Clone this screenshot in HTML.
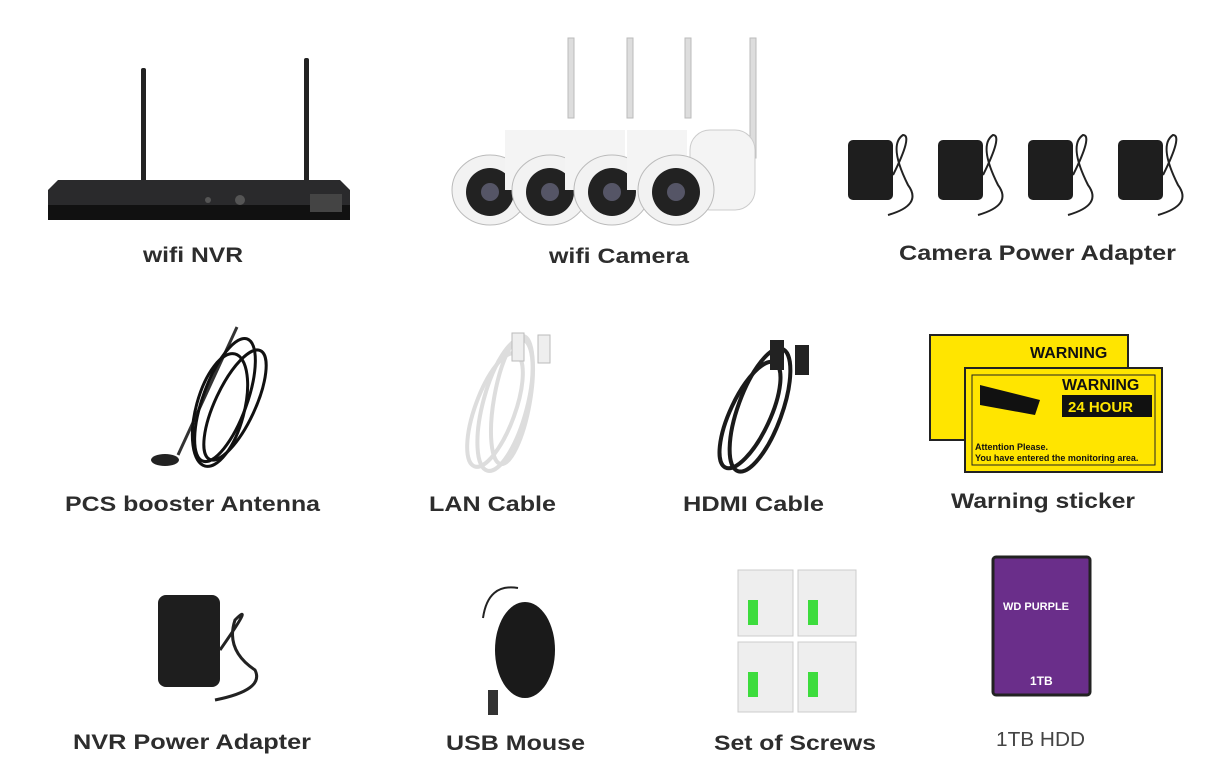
<!DOCTYPE html>
<html><head><meta charset="utf-8"><style>
html,body{margin:0;padding:0;background:#fff;width:1232px;height:772px;overflow:hidden}
svg{display:block}
text{font-family:"Liberation Sans",Arial,sans-serif;fill:#2d2d2d;font-size:21px;font-weight:bold}
.l{font-weight:normal;fill:#444;font-size:20px}
</style></head><body>
<svg width="1232" height="772" viewBox="0 0 1232 772" xmlns="http://www.w3.org/2000/svg">
<rect width="1232" height="772" fill="#fff"/>
<!-- NVR -->
<rect x="141" y="68" width="5" height="114" rx="2" fill="#222"/>
<rect x="304" y="58" width="5" height="124" rx="2" fill="#222"/>
<polygon points="58,180 340,180 350,190 350,220 48,220 48,190" fill="#2a2a2c"/>
<rect x="48" y="205" width="302" height="15" fill="#111"/>
<circle cx="208" cy="200" r="3" fill="#555"/><circle cx="240" cy="200" r="5" fill="#555"/>
<rect x="310" y="194" width="32" height="18" fill="#444"/>
<!-- cameras -->
<g fill="#e9e9e9" stroke="#bbb">
<rect x="568" y="38" width="6" height="80" fill="#ddd"/>
<rect x="627" y="38" width="6" height="80" fill="#ddd"/>
<rect x="685" y="38" width="6" height="80" fill="#ddd"/>
<rect x="750" y="38" width="6" height="120" fill="#ddd"/>
</g>
<g>
<g transform="translate(0,0)"><ellipse cx="490" cy="190" rx="38" ry="35" fill="#f2f2f2" stroke="#bbb"/><circle cx="490" cy="192" r="24" fill="#222"/><circle cx="490" cy="192" r="9" fill="#556"/><rect x="505" y="130" width="70" height="60" fill="#f4f4f4"/></g>
<g><ellipse cx="550" cy="190" rx="38" ry="35" fill="#f2f2f2" stroke="#bbb"/><circle cx="550" cy="192" r="24" fill="#222"/><circle cx="550" cy="192" r="9" fill="#556"/><rect x="565" y="130" width="60" height="60" fill="#f4f4f4"/></g>
<g><ellipse cx="612" cy="190" rx="38" ry="35" fill="#f2f2f2" stroke="#bbb"/><circle cx="612" cy="192" r="24" fill="#222"/><circle cx="612" cy="192" r="9" fill="#556"/><rect x="627" y="130" width="60" height="60" fill="#f4f4f4"/></g>
<g><rect x="690" y="130" width="65" height="80" rx="20" fill="#f4f4f4" stroke="#ccc"/><ellipse cx="676" cy="190" rx="38" ry="35" fill="#f2f2f2" stroke="#bbb"/><circle cx="676" cy="192" r="24" fill="#222"/><circle cx="676" cy="192" r="9" fill="#556"/></g>
</g>
<!-- camera adapters -->
<g fill="#1e1e1e">
<rect x="848" y="140" width="45" height="60" rx="5"/><rect x="938" y="140" width="45" height="60" rx="5"/><rect x="1028" y="140" width="45" height="60" rx="5"/><rect x="1118" y="140" width="45" height="60" rx="5"/>
</g>
<g fill="none" stroke="#222" stroke-width="2">
<path d="M893 175 q20 -40 10 -40 q-15 10 5 50 q15 20 -20 30"/>
<path d="M983 175 q20 -40 10 -40 q-15 10 5 50 q15 20 -20 30"/>
<path d="M1073 175 q20 -40 10 -40 q-15 10 5 50 q15 20 -20 30"/>
<path d="M1163 175 q20 -40 10 -40 q-15 10 5 50 q15 20 -20 30"/>
</g>
<!-- antenna -->
<line x1="237" y1="327" x2="178" y2="455" stroke="#333" stroke-width="3"/>
<ellipse cx="165" cy="460" rx="14" ry="6" fill="#222"/>
<g fill="none" stroke="#111" stroke-width="3">
<ellipse cx="225" cy="400" rx="22" ry="65" transform="rotate(20 225 400)"/>
<ellipse cx="235" cy="405" rx="20" ry="60" transform="rotate(25 235 405)"/>
<ellipse cx="220" cy="410" rx="24" ry="58" transform="rotate(15 220 410)"/>
</g>
<!-- LAN -->
<g fill="none" stroke="#ddd" stroke-width="4">
<ellipse cx="505" cy="405" rx="22" ry="68" transform="rotate(15 505 405)"/>
<ellipse cx="495" cy="410" rx="20" ry="60" transform="rotate(20 495 410)"/>
<ellipse cx="512" cy="400" rx="18" ry="65" transform="rotate(10 512 400)"/>
</g>
<rect x="512" y="333" width="12" height="28" fill="#eee" stroke="#bbb"/>
<rect x="538" y="335" width="12" height="28" fill="#eee" stroke="#bbb"/>
<!-- HDMI -->
<g fill="none" stroke="#1a1a1a" stroke-width="4">
<ellipse cx="760" cy="410" rx="22" ry="65" transform="rotate(20 760 410)"/>
<ellipse cx="750" cy="415" rx="20" ry="58" transform="rotate(25 750 415)"/>
</g>
<rect x="770" y="340" width="14" height="30" fill="#222"/><rect x="795" y="345" width="14" height="30" fill="#222"/>
<!-- warning stickers -->
<rect x="930" y="335" width="198" height="105" fill="#ffe500" stroke="#222" stroke-width="2"/>
<text x="1030" y="358" style="font-size:16px;fill:#111">WARNING</text>
<rect x="965" y="368" width="197" height="104" fill="#ffe500" stroke="#222" stroke-width="2"/>
<rect x="972" y="375" width="183" height="90" fill="none" stroke="#222"/>
<text x="1062" y="390" style="font-size:16px;fill:#111">WARNING</text>
<rect x="1062" y="395" width="90" height="22" fill="#111"/>
<text x="1068" y="412" style="font-size:15px;fill:#ffe500">24 HOUR</text>
<path d="M980 385 l60 15 l-5 15 l-55 -10z" fill="#111"/>
<text x="975" y="450" style="font-size:9px;fill:#111">Attention Please.</text>
<text x="975" y="461" style="font-size:9px;fill:#111">You have entered the monitoring area.</text>
<!-- NVR adapter -->
<rect x="158" y="595" width="62" height="92" rx="8" fill="#1e1e1e"/>
<path d="M220 650 q35 -50 15 -30 q-10 30 20 50 q10 20 -40 30" fill="none" stroke="#222" stroke-width="3"/>
<!-- mouse -->
<path d="M518 588 q-30 -5 -35 30" fill="none" stroke="#222" stroke-width="2"/>
<ellipse cx="525" cy="650" rx="30" ry="48" fill="#1a1a1a"/>
<rect x="488" y="690" width="10" height="25" fill="#333"/>
<!-- screws -->
<g fill="#eee" stroke="#ccc">
<rect x="738" y="570" width="55" height="66"/><rect x="798" y="570" width="58" height="66"/>
<rect x="738" y="642" width="55" height="70"/><rect x="798" y="642" width="58" height="70"/>
</g>
<g fill="#3ddc3d">
<rect x="748" y="600" width="10" height="25"/><rect x="808" y="600" width="10" height="25"/>
<rect x="748" y="672" width="10" height="25"/><rect x="808" y="672" width="10" height="25"/>
</g>
<!-- HDD -->
<rect x="993" y="557" width="97" height="138" rx="3" fill="#6a2e8a" stroke="#222" stroke-width="3"/>
<text x="1003" y="610" style="font-size:11px;fill:#fff">WD PURPLE</text>
<text x="1030" y="685" style="font-size:12px;fill:#fff">1TB</text>
<!-- labels -->
<text x="143" y="262" textLength="100" lengthAdjust="spacingAndGlyphs">wifi NVR</text>
<text x="549" y="263" textLength="140" lengthAdjust="spacingAndGlyphs">wifi Camera</text>
<text x="899" y="260" textLength="277" lengthAdjust="spacingAndGlyphs">Camera Power Adapter</text>
<text x="65" y="511" textLength="255" lengthAdjust="spacingAndGlyphs">PCS booster Antenna</text>
<text x="429" y="511" textLength="127" lengthAdjust="spacingAndGlyphs">LAN Cable</text>
<text x="683" y="511" textLength="141" lengthAdjust="spacingAndGlyphs">HDMI Cable</text>
<text x="951" y="508" textLength="184" lengthAdjust="spacingAndGlyphs">Warning sticker</text>
<text x="73" y="749" textLength="238" lengthAdjust="spacingAndGlyphs">NVR Power Adapter</text>
<text x="446" y="750" textLength="139" lengthAdjust="spacingAndGlyphs">USB Mouse</text>
<text x="714" y="750" textLength="162" lengthAdjust="spacingAndGlyphs">Set of Screws</text>
<text class="l" x="996" y="746" textLength="89" lengthAdjust="spacingAndGlyphs">1TB HDD</text>
</svg>
</body></html>
